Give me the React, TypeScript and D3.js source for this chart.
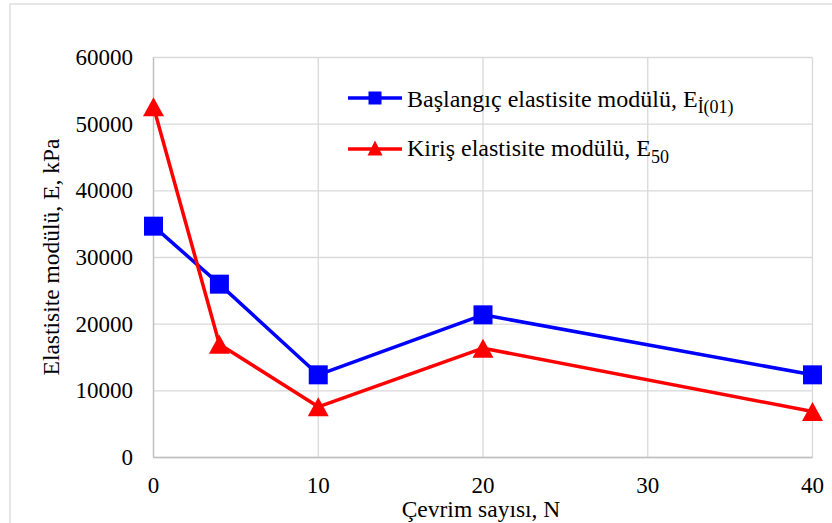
import React from "react";
import * as d3 from "d3";

// Cycle counts and moduli (kPa)
const cycles = [0, 4, 10, 20, 40];
const initialModulus = [34700, 26000, 12400, 21400, 12400];
const secantModulus = [52600, 17000, 7600, 16400, 6900];

const xTicks = [0, 10, 20, 30, 40];
const yTicks = [0, 10000, 20000, 30000, 40000, 50000, 60000];

const W = 832;
const H = 523;
const FONT = "Liberation Serif";
const GRID = "#d9d9d9";
const BLUE = "#0000ff";
const RED = "#ff0000";

const txt = { fontFamily: FONT, fill: "#000" } as const;

export default function App() {
  const x = d3.scaleLinear().domain([0, 40]).range([153.5, 812.5]);
  const y = d3.scaleLinear().domain([0, 60000]).range([457.5, 57.5]);

  const line = d3
    .line<number>()
    .x((_, i) => x(cycles[i]))
    .y((d) => y(d));

  const square = (cx: number, cy: number, s: number, key: string | number) => (
    <rect key={key} x={cx - s / 2} y={cy - s / 2} width={s} height={s} fill={BLUE} />
  );
  const triangle = (cx: number, cy: number, w: number, h: number, key: string | number) => (
    <path
      key={key}
      d={`M${cx},${cy - h / 2}L${cx + w / 2},${cy + h / 2}L${cx - w / 2},${cy + h / 2}Z`}
      fill={RED}
    />
  );

  return (
    <svg
      width={W}
      height={H}
      style={{ position: "absolute", left: 0, top: 0, background: "#fff", fontFamily: FONT }}
    >
      {/* chart frame */}
      <rect x={10} y={4} width={W} height={H} fill="#fff" stroke={GRID} strokeWidth={1.3} />

      {/* gridlines */}
      {yTicks.map((t) => (
        <line key={"gy" + t} x1={x(0)} x2={x(40)} y1={y(t)} y2={y(t)} stroke={GRID} strokeWidth={1.3} />
      ))}
      {xTicks.map((t) => (
        <line key={"gx" + t} x1={x(t)} x2={x(t)} y1={y(0)} y2={y(60000)} stroke={GRID} strokeWidth={1.3} />
      ))}
      {/* axes */}
      <line x1={x(0)} x2={x(0)} y1={y(0)} y2={y(60000)} stroke="#bfbfbf" strokeWidth={1.3} />
      <line x1={x(0)} x2={x(40)} y1={y(0)} y2={y(0)} stroke="#bfbfbf" strokeWidth={1.3} />

      {/* tick labels */}
      {yTicks.map((t) => (
        <text key={"ty" + t} x={133} y={y(t) + 7.5} textAnchor="end" fontSize={23} style={txt}>
          {t}
        </text>
      ))}
      {xTicks.map((t) => (
        <text key={"tx" + t} x={x(t)} y={493} textAnchor="middle" fontSize={23} style={txt}>
          {t}
        </text>
      ))}

      {/* axis titles */}
      <text x={481} y={517} textAnchor="middle" fontSize={23.5} style={txt}>
        Çevrim sayısı, N
      </text>
      <text
        transform={`translate(59,257) rotate(-90)`}
        textAnchor="middle"
        fontSize={23.5}
        style={txt}
      >
        Elastisite modülü, E, kPa
      </text>

      {/* series */}
      <path d={line(initialModulus) || ""} fill="none" stroke={BLUE} strokeWidth={3.5} strokeLinejoin="round" />
      <path d={line(secantModulus) || ""} fill="none" stroke={RED} strokeWidth={3.5} strokeLinejoin="round" />
      {initialModulus.map((v, i) => square(x(cycles[i]), y(v), 19, "s" + i))}
      {secantModulus.map((v, i) => triangle(x(cycles[i]), y(v), 21, 19, "t" + i))}

      {/* legend */}
      <line x1={348} x2={402} y1={98} y2={98} stroke={BLUE} strokeWidth={3.5} />
      {square(375, 98, 13, "ls")}
      <text x={407} y={107} fontSize={24} style={txt}>
        Başlangıç elastisite modülü, E
        <tspan fontSize={18} dy={6}>İ(01)</tspan>
      </text>
      <line x1={348} x2={402} y1={149} y2={149} stroke={RED} strokeWidth={3.5} />
      {triangle(375, 148, 15, 15, "lt")}
      <text x={407} y={156} fontSize={24} style={txt}>
        Kiriş elastisite modülü, E
        <tspan fontSize={18} dy={7}>50</tspan>
      </text>
    </svg>
  );
}
